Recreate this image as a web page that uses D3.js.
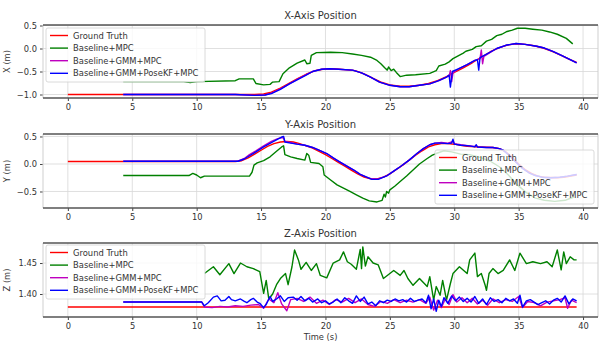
<!DOCTYPE html>
<html>
<head>
<meta charset="utf-8">
<script src="https://cdn.jsdelivr.net/npm/d3@7"></script>
<style>
  body { margin: 0; background: #fff; }
  svg text { font-family: "DejaVu Sans", sans-serif; fill: #333; }
</style>
</head>
<body>
<svg width="602" height="346"></svg>
<script>
// legend / series
const seriesNames = ["Ground Truth", "Baseline+MPC", "Baseline+GMM+MPC", "Baseline+GMM+PoseKF+MPC"];
const seriesColors = ["#ff0000", "#008000", "#bf00bf", "#0000ff"];

const timeTicks = [0, 5, 10, 15, 20, 25, 30, 35, 40];
const xTicks = [0.5, 0.0, -0.5, -1.0];
const yTicks = [0.5, 0.0, -0.5];
const zTicks = [1.45, 1.40];

// X position, [time, value]
const xGround = [[0,-1.0],[4.3,-1.0],[10,-1.0],[14.5,-1.0],[15.2,-0.99],[15.8,-0.95],[16.5,-0.86],[17.2,-0.75],[17.8,-0.66],[18.5,-0.56],[19.2,-0.48],[19.8,-0.45],[20.5,-0.44],[21.5,-0.46],[22.3,-0.48],[23.0,-0.55],[23.7,-0.65],[24.4,-0.74],[25.0,-0.79],[25.8,-0.82],[26.5,-0.82],[27.3,-0.80],[28.0,-0.76],[28.7,-0.70],[29.4,-0.61],[30.0,-0.52],[30.7,-0.42],[31.4,-0.31],[32.1,-0.19],[32.8,-0.07],[33.5,0.02],[34.2,0.08],[34.8,0.10],[35.5,0.09],[36.2,0.06],[36.9,0.01],[37.6,-0.06],[38.3,-0.15],[38.9,-0.23],[39.5,-0.30]];
const xBase = [[4.3,-0.72],[9.0,-0.72],[9.5,-0.74],[10.0,-0.72],[13.0,-0.70],[13.3,-0.66],[14.4,-0.66],[14.6,-0.76],[15.2,-0.79],[15.7,-0.78],[15.9,-0.73],[16.4,-0.72],[16.7,-0.55],[17.2,-0.42],[17.8,-0.32],[18.4,-0.25],[18.55,-0.33],[18.8,-0.32],[18.9,-0.15],[19.3,-0.09],[20.4,-0.08],[21.3,-0.09],[22.1,-0.12],[22.8,-0.15],[23.5,-0.19],[24.0,-0.26],[24.3,-0.33],[24.6,-0.42],[24.8,-0.47],[24.9,-0.40],[25.1,-0.48],[25.3,-0.45],[25.5,-0.52],[25.8,-0.61],[26.3,-0.58],[27.0,-0.57],[28.1,-0.54],[28.6,-0.48],[28.8,-0.38],[29.3,-0.34],[29.6,-0.29],[29.9,-0.22],[30.3,-0.16],[30.7,-0.10],[30.9,-0.06],[31.4,-0.02],[31.7,0.04],[32.1,0.06],[32.5,0.16],[32.9,0.20],[33.3,0.28],[33.7,0.31],[34.1,0.37],[34.5,0.40],[34.9,0.44],[35.5,0.44],[36.1,0.42],[36.8,0.40],[37.4,0.36],[38.0,0.31],[38.7,0.22],[39.2,0.10]];
const xGmm = [[4.3,-1.0],[10,-1.0],[13,-1.0],[14.5,-1.02],[15.3,-1.01],[15.8,-0.97],[16.5,-0.88],[17.2,-0.77],[17.8,-0.67],[18.5,-0.57],[19.0,-0.50],[19.7,-0.45],[20.3,-0.44],[21.0,-0.45],[22.1,-0.47],[22.8,-0.53],[23.5,-0.62],[24.2,-0.73],[25.0,-0.80],[25.8,-0.83],[26.5,-0.83],[27.3,-0.80],[28.1,-0.77],[28.8,-0.70],[29.4,-0.62],[29.6,-0.60],[29.7,-0.48],[29.8,-0.72],[29.9,-0.53],[30.4,-0.43],[31.0,-0.35],[31.6,-0.26],[32.0,-0.22],[32.1,-0.03],[32.2,-0.33],[32.3,-0.17],[33.3,0.0],[34.0,0.07],[34.8,0.11],[35.5,0.09],[36.4,0.05],[37.0,0.01],[37.7,-0.07],[38.4,-0.16],[39.0,-0.24],[39.5,-0.31]];
const xKf = [[4.3,-1.0],[10,-1.0],[13,-1.0],[14.5,-1.02],[15.3,-1.01],[15.8,-0.98],[16.5,-0.89],[17.2,-0.77],[17.8,-0.68],[18.5,-0.58],[19.0,-0.50],[19.7,-0.45],[20.3,-0.44],[21.0,-0.45],[22.1,-0.47],[22.8,-0.53],[23.5,-0.62],[24.2,-0.73],[25.0,-0.80],[25.8,-0.83],[26.5,-0.83],[27.3,-0.80],[28.1,-0.77],[28.8,-0.70],[29.4,-0.62],[29.6,-0.58],[29.7,-0.84],[29.85,-0.50],[30.4,-0.43],[31.0,-0.35],[31.6,-0.26],[31.8,-0.24],[31.9,-0.47],[32.0,-0.20],[32.4,-0.14],[33.3,0.0],[34.0,0.07],[34.8,0.11],[35.5,0.09],[36.4,0.05],[37.0,0.01],[37.7,-0.07],[38.4,-0.16],[39.0,-0.24],[39.5,-0.31]];

// Y position
const yGround = [[0,0.045],[13.0,0.045],[13.5,0.06],[14.0,0.11],[14.5,0.18],[15.0,0.25],[15.5,0.32],[16.0,0.37],[16.5,0.40],[17.0,0.41],[17.5,0.40],[18.0,0.37],[18.5,0.33],[19.0,0.29],[19.5,0.23],[20.0,0.17],[20.5,0.10],[21.0,0.03],[21.5,-0.04],[22.0,-0.11],[22.5,-0.18],[23.0,-0.24],[23.5,-0.27],[24.0,-0.27],[24.5,-0.24],[25.0,-0.18],[25.5,-0.10],[26.0,-0.02],[26.5,0.07],[27.0,0.16],[27.5,0.24],[28.0,0.31],[28.5,0.35],[29.0,0.37],[29.5,0.37],[30.0,0.36],[30.5,0.34],[31.0,0.32],[32.0,0.31],[33.0,0.30],[33.5,0.28],[34.0,0.22],[34.5,0.12],[35.0,0.0],[35.5,-0.10],[36.0,-0.17],[36.5,-0.22],[37.0,-0.24],[38.0,-0.25],[38.5,-0.24],[39.5,-0.20]];
const yBase = [[4.3,-0.21],[9.4,-0.21],[9.7,-0.17],[10.0,-0.20],[10.3,-0.25],[10.6,-0.22],[12.0,-0.22],[13.5,-0.22],[14.1,-0.22],[14.3,-0.15],[14.45,-0.02],[14.7,0.02],[15.2,0.06],[15.7,0.13],[16.2,0.23],[16.6,0.31],[16.75,0.33],[16.85,0.17],[17.3,0.13],[17.8,0.10],[18.4,0.07],[18.55,0.19],[18.7,0.16],[18.85,0.03],[19.5,0.01],[19.8,-0.05],[19.9,-0.20],[20.4,-0.29],[20.9,-0.38],[21.4,-0.44],[21.9,-0.50],[22.4,-0.56],[22.9,-0.62],[23.4,-0.67],[24.0,-0.69],[24.4,-0.66],[24.55,-0.55],[24.65,-0.60],[24.75,-0.50],[24.9,-0.53],[25.0,-0.47],[25.4,-0.40],[25.8,-0.32],[26.3,-0.22],[26.8,-0.11],[27.3,0.0],[27.9,0.10],[28.3,0.16],[28.6,0.19],[29.2,0.24],[29.8,0.22],[30.5,0.18],[31.2,0.17],[32.0,0.12],[32.8,0.05],[33.5,-0.05],[34.2,-0.20],[34.9,-0.38],[35.6,-0.52],[36.3,-0.62],[37.0,-0.66],[37.8,-0.68],[38.6,-0.66],[39.3,-0.60]];
const yGmm = [[4.3,0.05],[13.2,0.05],[13.7,0.10],[14.1,0.17],[14.6,0.24],[15.2,0.33],[15.8,0.41],[16.3,0.46],[16.6,0.48],[16.75,0.47],[16.85,0.41],[17.3,0.39],[17.8,0.36],[18.4,0.34],[19.0,0.30],[19.5,0.25],[20.1,0.19],[20.6,0.11],[21.1,0.04],[21.6,-0.03],[22.2,-0.11],[22.7,-0.19],[23.2,-0.24],[23.6,-0.27],[24.1,-0.27],[24.8,-0.21],[25.3,-0.13],[25.8,-0.05],[26.5,0.07],[27.1,0.19],[27.6,0.28],[28.1,0.35],[28.5,0.38],[29.0,0.39],[29.5,0.38],[29.8,0.40],[29.9,0.42],[30.0,0.37],[30.5,0.35],[31.2,0.33],[31.6,0.32],[31.7,0.34],[31.8,0.31],[32.5,0.30],[33.0,0.30],[33.5,0.28],[33.8,0.25],[34.3,0.15],[34.8,0.03],[35.3,-0.08],[35.8,-0.16],[36.3,-0.21],[36.8,-0.24],[37.5,-0.25],[38.2,-0.24],[38.8,-0.22],[39.5,-0.19]];
const yKf = [[4.3,0.05],[13.2,0.05],[13.7,0.09],[14.1,0.15],[14.6,0.22],[15.2,0.31],[15.8,0.39],[16.3,0.45],[16.6,0.49],[16.75,0.50],[16.85,0.40],[17.3,0.38],[17.8,0.36],[18.4,0.34],[19.0,0.30],[19.5,0.25],[20.1,0.19],[20.6,0.11],[21.1,0.04],[21.6,-0.03],[22.2,-0.11],[22.7,-0.19],[23.2,-0.24],[23.6,-0.28],[24.1,-0.28],[24.8,-0.21],[25.3,-0.13],[25.8,-0.05],[26.5,0.07],[27.1,0.19],[27.6,0.28],[28.1,0.35],[28.5,0.38],[29.0,0.38],[29.5,0.37],[29.8,0.38],[29.9,0.45],[30.0,0.36],[30.5,0.34],[31.2,0.33],[31.6,0.31],[31.7,0.35],[31.8,0.31],[32.5,0.30],[33.0,0.30],[33.5,0.28],[33.8,0.25],[34.3,0.15],[34.8,0.03],[35.3,-0.08],[35.8,-0.16],[36.3,-0.21],[36.8,-0.24],[37.5,-0.25],[38.2,-0.24],[38.8,-0.22],[39.5,-0.19]];

// Z position
const zGround = [[0,1.379],[39.5,1.379]];
const zBase = [[10.6,1.433],[11.3,1.444],[11.8,1.431],[12.5,1.449],[12.9,1.433],[13.4,1.450],[13.9,1.444],[14.4,1.441],[14.9,1.436],[15.2,1.401],[15.4,1.422],[15.6,1.392],[15.9,1.400],[16.2,1.415],[16.5,1.425],[16.9,1.433],[17.1,1.415],[17.4,1.444],[17.6,1.471],[17.9,1.455],[18.1,1.440],[18.5,1.451],[18.9,1.438],[19.3,1.449],[19.6,1.430],[20.1,1.426],[20.6,1.450],[21.1,1.455],[21.4,1.468],[21.7,1.452],[22.0,1.448],[22.4,1.440],[22.7,1.472],[22.8,1.441],[22.9,1.476],[23.1,1.445],[23.3,1.460],[23.7,1.450],[24.1,1.447],[24.5,1.425],[25.0,1.433],[25.3,1.438],[25.8,1.430],[26.1,1.438],[26.4,1.425],[26.8,1.414],[27.3,1.425],[27.9,1.412],[28.1,1.428],[28.4,1.390],[28.6,1.412],[28.9,1.398],[29.1,1.422],[29.4,1.390],[29.7,1.417],[29.9,1.433],[30.4,1.444],[31.0,1.433],[31.2,1.455],[31.6,1.466],[31.8,1.428],[32.1,1.433],[32.4,1.414],[32.5,1.406],[32.7,1.433],[33.0,1.441],[33.4,1.433],[33.8,1.438],[34.3,1.455],[34.7,1.438],[35.1,1.466],[35.6,1.449],[36.1,1.452],[36.7,1.449],[37.2,1.452],[37.6,1.444],[38.0,1.471],[38.3,1.439],[38.5,1.468],[38.7,1.449],[39.0,1.460],[39.3,1.455],[39.5,1.455]];
const zGmm = [[4.3,1.387],[10.4,1.387],[10.6,1.379],[11.2,1.378],[11.8,1.380],[12.4,1.379],[13.0,1.381],[13.6,1.380],[14.2,1.382],[14.8,1.383],[15.2,1.377],[15.6,1.392],[16.0,1.386],[16.3,1.402],[16.6,1.384],[17.0,1.373],[17.3,1.391],[17.8,1.393],[18.3,1.388],[18.8,1.395],[19.3,1.385],[19.8,1.390],[20.3,1.383],[20.8,1.391],[21.3,1.387],[21.8,1.393],[22.3,1.386],[22.8,1.392],[23.3,1.383],[23.8,1.380],[24.3,1.388],[24.8,1.385],[25.3,1.391],[25.8,1.386],[26.3,1.390],[26.8,1.387],[27.3,1.391],[27.8,1.385],[28.1,1.395],[28.4,1.374],[28.7,1.390],[29.0,1.378],[29.3,1.392],[29.6,1.383],[29.9,1.399],[30.2,1.387],[30.6,1.394],[31.0,1.386],[31.4,1.393],[31.8,1.384],[32.2,1.390],[32.6,1.382],[33.0,1.392],[33.5,1.386],[34.0,1.391],[34.5,1.388],[35.0,1.396],[35.3,1.378],[35.7,1.388],[36.2,1.386],[36.7,1.381],[37.2,1.387],[37.7,1.389],[38.2,1.391],[38.6,1.394],[38.8,1.377],[39.1,1.390],[39.5,1.386]];
const zKf = [[4.3,1.387],[10.4,1.387],[10.6,1.381],[10.9,1.386],[11.3,1.395],[11.6,1.397],[11.9,1.389],[12.2,1.390],[12.5,1.396],[12.7,1.391],[13.0,1.389],[13.4,1.392],[13.7,1.388],[13.9,1.386],[14.2,1.391],[14.4,1.393],[14.7,1.387],[14.9,1.385],[15.2,1.378],[15.4,1.383],[15.7,1.396],[15.9,1.388],[16.2,1.392],[16.5,1.397],[16.8,1.388],[17.1,1.394],[17.5,1.395],[17.8,1.390],[18.1,1.396],[18.4,1.389],[18.7,1.393],[19.0,1.387],[19.4,1.392],[19.7,1.386],[20.0,1.389],[20.3,1.384],[20.6,1.387],[20.9,1.392],[21.2,1.386],[21.5,1.394],[21.8,1.389],[22.1,1.385],[22.4,1.397],[22.7,1.388],[23.0,1.395],[23.3,1.384],[23.6,1.387],[23.9,1.381],[24.2,1.389],[24.5,1.386],[24.8,1.390],[25.1,1.388],[25.4,1.392],[25.7,1.389],[26.0,1.391],[26.3,1.387],[26.6,1.393],[26.9,1.388],[27.2,1.390],[27.5,1.392],[27.8,1.386],[28.0,1.398],[28.2,1.376],[28.4,1.392],[28.6,1.372],[28.8,1.390],[29.0,1.380],[29.2,1.394],[29.5,1.385],[29.8,1.397],[30.1,1.389],[30.4,1.395],[30.7,1.388],[31.0,1.393],[31.3,1.387],[31.6,1.396],[31.9,1.385],[32.2,1.392],[32.5,1.383],[32.8,1.394],[33.1,1.388],[33.4,1.391],[33.7,1.386],[34.0,1.393],[34.3,1.389],[34.6,1.392],[34.9,1.385],[35.1,1.398],[35.3,1.379],[35.6,1.389],[35.9,1.391],[36.2,1.387],[36.5,1.383],[36.8,1.386],[37.1,1.389],[37.4,1.384],[37.7,1.390],[38.0,1.393],[38.3,1.387],[38.6,1.397],[38.9,1.384],[39.2,1.392],[39.5,1.389]];

const svg = d3.select("svg");
const left = 43, right = 598;

const x = d3.scaleLinear().domain([-1.93, 41.16]).range([left, right]);

const panels = [
    { title: "X-Axis Position", label: "X (m)", top: 25, bottom: 98, domain: [-1.076, 0.511],
      ticks: xTicks, fmt: d3.format(".1f"), data: [xGround, xBase, xGmm, xKf], legend: [46, 28] },
    { title: "Y-Axis Position", label: "Y (m)", top: 134, bottom: 208, domain: [-0.8, 0.545],
      ticks: yTicks, fmt: d3.format(".1f"), data: [yGround, yBase, yGmm, yKf], legend: [435, 150] },
    { title: "Z-Axis Position", label: "Z (m)", top: 243, bottom: 317, domain: [1.3629, 1.4823],
      ticks: zTicks, fmt: d3.format(".2f"), data: [zGround, zBase, zGmm, zKf], legend: [46, 245] }
];

panels.forEach((p, pi) => {
    const y = d3.scaleLinear().domain(p.domain).range([p.bottom, p.top]);
    const g = svg.append("g");

    // grid
    g.selectAll("line.gx").data(timeTicks).join("line")
        .attr("x1", d => x(d)).attr("x2", d => x(d))
        .attr("y1", p.top).attr("y2", p.bottom)
        .attr("stroke", "#d8d8d8").attr("stroke-width", 0.8);
    g.selectAll("line.gy").data(p.ticks).join("line")
        .attr("x1", left).attr("x2", right)
        .attr("y1", d => y(d)).attr("y2", d => y(d))
        .attr("stroke", "#d8d8d8").attr("stroke-width", 0.8);

    // axes
    const xa = g.append("g").attr("transform", `translate(0,${p.bottom})`)
        .call(d3.axisBottom(x).tickValues(timeTicks).tickFormat(d3.format("d")).tickSize(3).tickPadding(3));
    const ya = g.append("g").attr("transform", `translate(${left},0)`)
        .call(d3.axisLeft(y).tickValues(p.ticks).tickFormat(p.fmt).tickSize(3).tickPadding(3));
    [xa, ya].forEach(a => {
        a.select(".domain").remove();
        a.selectAll(".tick line").attr("stroke", "#444");
        a.selectAll("text").attr("font-size", 8.3).attr("fill", "#333").attr("font-family", "DejaVu Sans");
    });

    // lines
    const clipId = "clip" + pi;
    svg.append("clipPath").attr("id", clipId).append("rect")
        .attr("x", left).attr("y", p.top).attr("width", right - left).attr("height", p.bottom - p.top);
    const line = d3.line().x(d => x(d[0])).y(d => y(d[1]));
    g.append("g").attr("clip-path", `url(#${clipId})`)
        .selectAll("path").data(p.data).join("path")
        .attr("d", line)
        .attr("fill", "none")
        .attr("stroke", (d, i) => seriesColors[i])
        .attr("stroke-width", 1.4)
        .attr("stroke-linejoin", "round");

    // frame
    g.append("line").attr("x1", left).attr("x2", left).attr("y1", p.top).attr("y2", p.bottom)
        .attr("stroke", "#cfcfcf").attr("stroke-width", 1);
    g.append("line").attr("x1", right).attr("x2", right).attr("y1", p.top).attr("y2", p.bottom)
        .attr("stroke", "#cfcfcf").attr("stroke-width", 1);
    [p.top, p.bottom].forEach(yy => {
        g.append("line").attr("x1", left).attr("x2", right).attr("y1", yy).attr("y2", yy)
            .attr("stroke", "#555").attr("stroke-width", 1.6);
    });

    // title and y label
    g.append("text").attr("x", (left + right) / 2).attr("y", p.top - 6)
        .attr("text-anchor", "middle").attr("font-size", 10).text(p.title);
    g.append("text").attr("transform", `translate(10,${(p.top + p.bottom) / 2}) rotate(-90)`)
        .attr("text-anchor", "middle").attr("font-size", 8.3).text(p.label);

    // legend
    const [lx, ly] = p.legend;
    const lg = g.append("g").attr("transform", `translate(${lx},${ly})`);
    lg.append("rect").attr("width", 159).attr("height", 54).attr("rx", 2)
        .attr("fill", "#fff").attr("fill-opacity", 0.8)
        .attr("stroke", "#d0d0d0").attr("stroke-width", 0.8);
    seriesNames.forEach((name, i) => {
        const yy = 7.5 + i * 12.6;
        lg.append("line").attr("x1", 4).attr("x2", 22).attr("y1", yy).attr("y2", yy)
            .attr("stroke", seriesColors[i]).attr("stroke-width", 1.4);
        lg.append("text").attr("x", 27).attr("y", yy + 3).attr("font-size", 8.4).text(name);
    });
});

svg.append("text").attr("x", (left + right) / 2).attr("y", 340)
    .attr("text-anchor", "middle").attr("font-size", 8.3).text("Time (s)");
</script>
</body>
</html>
